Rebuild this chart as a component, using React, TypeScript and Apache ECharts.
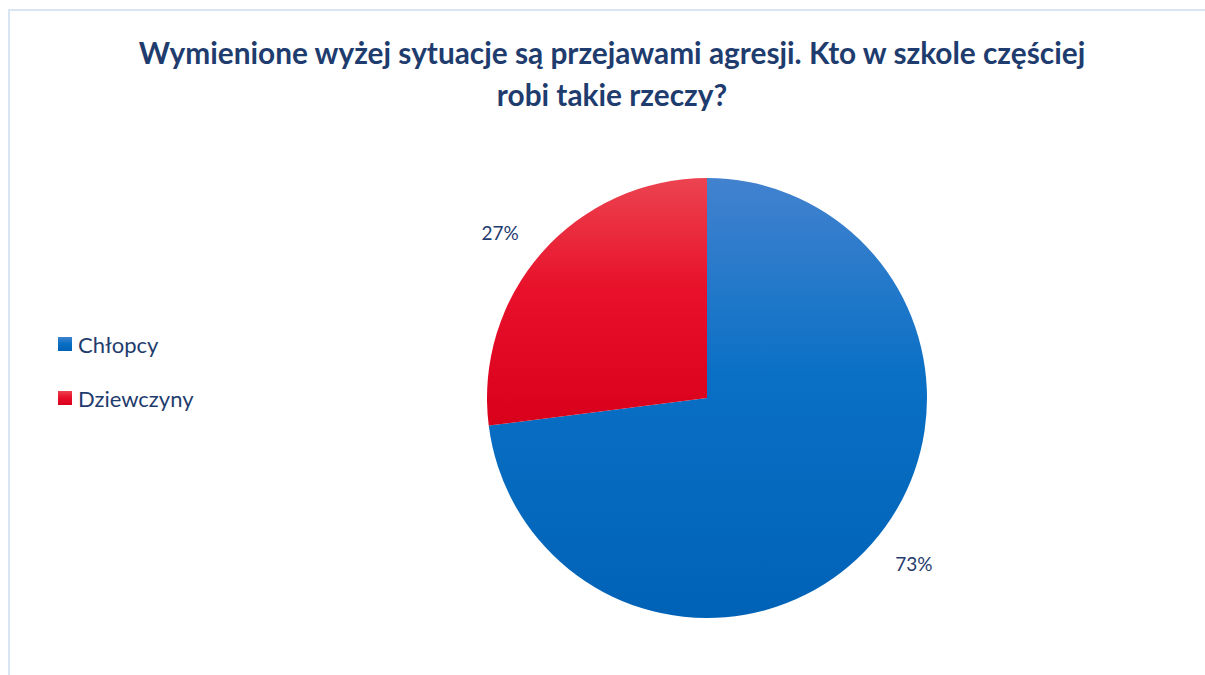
import React, { useEffect, useRef } from "react";
import * as echarts from "echarts";

const titleText = "Wymienione wyżej sytuacje są przejawami agresji. Kto w szkole częściej\nrobi takie rzeczy?";
const categories = ["Chłopcy", "Dziewczyny"];
const values = [73, 27];
const labels = ["73%", "27%"];

const textColor = "#1f3c6e";

export default function App() {
  const ref = useRef<HTMLDivElement>(null);
  useEffect(() => {
    document.body.style.margin = "0";
    const chart = echarts.init(ref.current!, null, { renderer: "svg" });
    const blueGrad = new echarts.graphic.LinearGradient(0, 0, 0, 1, [
      { offset: 0, color: "#4282cf" },
      { offset: 0.45, color: "#0a70c5" },
      { offset: 1, color: "#0062b6" },
    ]);
    const redGrad = new echarts.graphic.LinearGradient(0, 0, 0, 1, [
      { offset: 0, color: "#ec4350" },
      { offset: 0.45, color: "#e8102a" },
      { offset: 1, color: "#d8001a" },
    ]);
    const colors = [blueGrad, redGrad];
    chart.setOption({
      animation: false,
      backgroundColor: "#ffffff",
      title: {
        text: titleText,
        left: 607,
        textAlign: "center",
        top: 26,
        textStyle: {
          fontFamily: "Lato",
          fontWeight: "bold",
          fontSize: 29.8,
          lineHeight: 42,
          color: textColor,
        },
      },
      legend: {
        orient: "vertical",
        left: 53,
        top: 328,
        itemWidth: 14,
        itemHeight: 14,
        itemGap: 32,
        icon: "rect",
        data: categories,
        textStyle: { fontFamily: "Lato", fontSize: 22, color: textColor, padding: [0, 0, 0, 1] },
      },
      graphic: [
        {
          type: "rect",
          shape: { x: 9, y: 10, width: 1400, height: 900 },
          style: { fill: "none", stroke: "#dae5f3", lineWidth: 2 },
          silent: true,
        },
      ],
      series: [
        {
          type: "pie",
          center: [707, 398],
          radius: 220,
          startAngle: 90,
          clockwise: true,
          data: categories.map((c, i) => ({
            name: c,
            value: values[i],
            itemStyle: { color: colors[i] },
            label: { formatter: labels[i] },
          })),
          label: {
            show: true,
            position: "outside",
            fontFamily: "Lato",
            fontSize: 19,
            color: textColor,
            distanceToLabelLine: 0,
          },
          labelLine: { show: false, length: 31, length2: 0 },
        },
      ],
    });
    return () => chart.dispose();
  }, []);
  return <div ref={ref} style={{ width: 1205, height: 675 }} />;
}
